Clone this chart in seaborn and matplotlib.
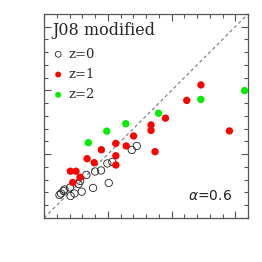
import numpy as np
import pandas as pd
import matplotlib
matplotlib.use("Agg")
import matplotlib.pyplot as plt
import seaborn as sns
from matplotlib.ticker import MultipleLocator

# z=0 (open circles)
x0 = [0.243, 0.267, 0.306, 0.322, 0.416, 0.408, 0.478, 0.541, 0.565, 0.591,
      0.664, 0.769, 0.800, 0.894, 0.993, 1.015, 1.071, 1.376, 1.454]
y0 = [0.361, 0.384, 0.424, 0.447, 0.345, 0.478, 0.384, 0.533, 0.580, 0.413,
      0.675, 0.471, 0.729, 0.745, 0.855, 0.549, 0.878, 1.067, 1.129]
# z=1 (red)
x1 = [0.413, 0.502, 0.450, 0.565, 0.675, 0.787, 0.899, 1.125, 1.126, 1.126,
      1.289, 1.404, 1.678, 1.678, 1.741, 1.903, 2.238, 2.460, 2.907]
y1 = [0.733, 0.733, 0.557, 0.638, 0.930, 0.867, 1.070, 1.169, 0.976, 0.831,
      1.129, 1.286, 1.459, 1.373, 1.040, 1.565, 1.843, 2.086, 1.365]
# z=2 (green)
x2 = [0.695, 0.984, 1.282, 1.796, 2.458, 3.145]
y2 = [1.181, 1.362, 1.478, 1.642, 1.859, 1.997]

labels = ["z=0", "z=1", "z=2"]
title = "J08 modified"
note = r"$\alpha$=0.6"

df = pd.DataFrame({
    "x": x0 + x1 + x2,
    "y": y0 + y1 + y2,
    "z": [labels[0]] * len(x0) + [labels[1]] * len(x1) + [labels[2]] * len(x2),
})

sns.set_style("ticks")
fig = plt.figure(figsize=(2.62, 2.62), dpi=100)
ax = fig.add_axes([0.168, 0.168, 0.779, 0.779])

lim = 3.2
ax.plot([0, lim], [0, lim], ls=(0, (3, 2.5)), color="#777777", lw=0.8, zorder=1)

sns.scatterplot(data=df[df.z == labels[0]], x="x", y="y", ax=ax, s=28,
                facecolor="none", edgecolor="#222222", linewidth=0.6,
                label=labels[0], zorder=3)
sns.scatterplot(data=df[df.z == labels[1]], x="x", y="y", ax=ax, s=28,
                color="#ff0000", edgecolor="none", label=labels[1], zorder=3)
sns.scatterplot(data=df[df.z == labels[2]], x="x", y="y", ax=ax, s=28,
                color="#00ee00", edgecolor="none", label=labels[2], zorder=3)

ax.set_xlim(0, lim)
ax.set_ylim(0, lim)
ax.set_xlabel("")
ax.set_ylabel("")
ax.xaxis.set_major_locator(MultipleLocator(1))
ax.yaxis.set_major_locator(MultipleLocator(1))
ax.xaxis.set_minor_locator(MultipleLocator(0.2))
ax.yaxis.set_minor_locator(MultipleLocator(0.2))
ax.tick_params(which="both", direction="in", top=True, right=True,
               labelbottom=False, labelleft=False, color="#555555", width=0.8)
ax.tick_params(which="major", length=5)
ax.tick_params(which="minor", length=3)
for sp in ax.spines.values():
    sp.set_color("#555555")
    sp.set_linewidth(0.9)

leg = ax.legend(loc="upper left", bbox_to_anchor=(-0.005, 0.86), frameon=False,
                handletextpad=0.0, handlelength=1.5, labelspacing=0.55,
                borderaxespad=0, prop={"family": "DejaVu Serif", "size": 9.5},
                markerscale=0.8)

ax.text(0.04, 0.958, title, transform=ax.transAxes, ha="left", va="top",
        family="DejaVu Serif", fontsize=11.5)
ax.text(0.92, 0.11, note, transform=ax.transAxes, ha="right", va="center",
        fontsize=10, color="#222222")

fig.savefig("out.png", dpi=100)
